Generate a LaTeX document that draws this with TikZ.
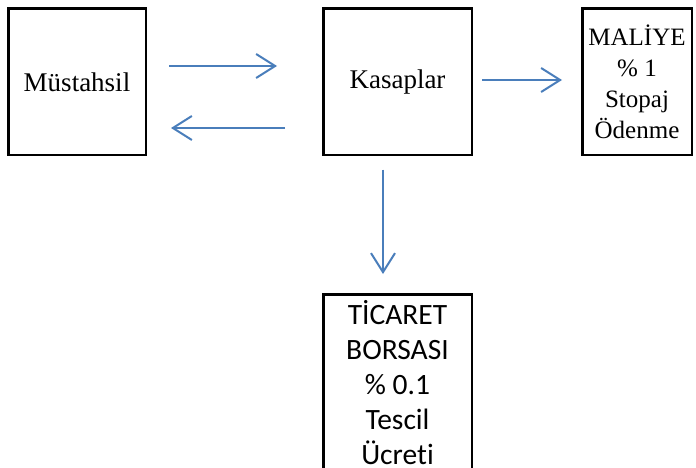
\documentclass[tikz,border=0pt]{standalone}
\usepackage{fontspec}
\setmainfont{Liberation Serif}
\newfontfamily\calibrifont[Ligatures=NoCommon]{Carlito}
\usetikzlibrary{arrows.meta}
\definecolor{arrowblue}{RGB}{74,126,187}
\begin{document}
\begin{tikzpicture}[x=1pt,y=-1pt]
        \tikzstyle{box}=[rectangle,draw=black,line width=2.5pt,align=center,inner sep=2pt]
        \tikzstyle{edge}=[draw,arrowblue,line width=2pt,-{Straight Barb[length=19pt,width=24pt,line width=2pt]}]
        \useasboundingbox (0,0) rectangle (696,468);
         \node [box,minimum width=137.5pt,minimum height=146.5pt,font=\fontsize{27}{32}\selectfont] (mustahsil) at (77,82) {Müstahsil};
         \node [box,minimum width=148.5pt,minimum height=146.5pt,font=\fontsize{27}{32}\selectfont] (kasaplar) at (397.5,82) {Kasaplar};
         \node [box,minimum width=109.5pt,minimum height=146.5pt,font=\fontsize{25}{31}\selectfont] (maliye) at (637,82) {MALİYE\\\% 1\\Stopaj\\Ödenme};
         \node [box,minimum width=148.5pt,minimum height=177.5pt,font=\calibrifont\fontsize{29.5}{35}\selectfont] (ticaret) at (397.5,383) {TİCARET\\BORSASI\\\% 0.1\\Tescil\\Ücreti};
         \path[edge,shorten <=22pt,shorten >=45pt] ([yshift=16pt]mustahsil.east) -- ([yshift=16pt]kasaplar.west);
         \path[edge,shorten <=37pt,shorten >=24pt] ([yshift=-46pt]kasaplar.west) -- ([yshift=-46pt]mustahsil.east);
         \path[edge,shorten <=9pt,shorten >=19pt] ([yshift=2pt]kasaplar.east) -- ([yshift=2pt]maliye.west);
         \path[edge,shorten <=13pt,shorten >=19pt] ([xshift=-14.5pt]kasaplar.south) -- ([xshift=-14.5pt]ticaret.north);
\end{tikzpicture}
\end{document}
